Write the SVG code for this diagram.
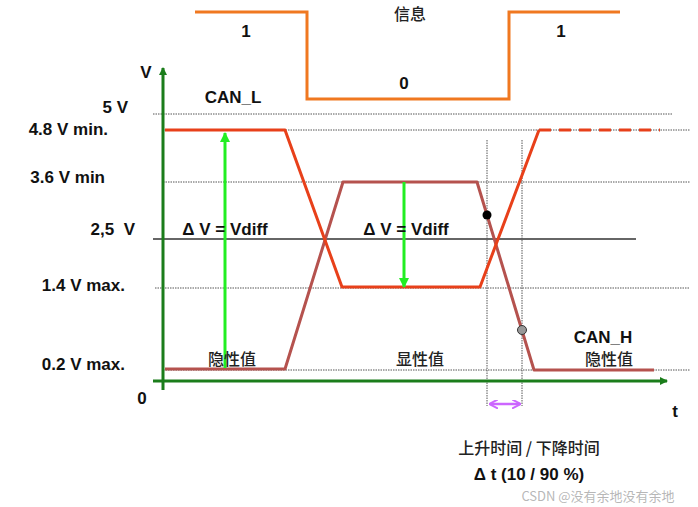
<svg xmlns="http://www.w3.org/2000/svg" width="698" height="507" viewBox="0 0 698 507">
<style>
.lbl{font-family:"Liberation Sans",Arial,sans-serif;font-weight:bold;font-size:17px;fill:#111}
.cjk{font-family:"Noto Sans CJK SC","Noto Sans",sans-serif;font-size:16px;font-weight:500;fill:#222}
.dot{stroke:#555;stroke-width:1;stroke-dasharray:1.5 1;fill:none}
.canl{stroke:#e8401a;stroke-width:3;fill:none;stroke-linejoin:round}
.canh{stroke:#b5524e;stroke-width:3;fill:none;stroke-linejoin:round}
.msg{stroke:#f07820;stroke-width:3;fill:none}
.axis{stroke:#1b7d1b;stroke-width:3;fill:none}
.vd{stroke:#22ee22;stroke-width:3;fill:none}
</style>
<defs>
<marker id="ag" markerWidth="8" markerHeight="8" refX="7" refY="4" orient="auto" markerUnits="userSpaceOnUse" viewBox="0 0 8 8"><path d="M0,0 L8,4 L0,8 z" fill="#1b7d1b"/></marker>
<marker id="av" markerWidth="10" markerHeight="10" refX="9" refY="5" orient="auto" markerUnits="userSpaceOnUse" viewBox="0 0 10 10"><path d="M0,0 L10,5 L0,10 z" fill="#22ee22"/></marker>
<marker id="ap" markerWidth="9" markerHeight="9" refX="8" refY="4.5" orient="auto-start-reverse" markerUnits="userSpaceOnUse" viewBox="0 0 9 9"><path d="M0,0 L9,4.5 L0,9" fill="none" stroke="#cc66ff" stroke-width="2"/></marker>
</defs>
<rect width="698" height="507" fill="#fff"/>

<g id="message">
<polyline class="msg" points="195,12 307,12 307,99 509,99 509,12 620,12"/>
<text class="lbl" x="246" y="37" text-anchor="middle" font-size="18">1</text>
<text class="lbl" x="404" y="89" text-anchor="middle" font-size="18">0</text>
<text class="lbl" x="561" y="37" text-anchor="middle" font-size="18">1</text>
<text class="cjk" x="410" y="20" text-anchor="middle" font-size="18">信息</text>
</g>

<g id="grid">
<line class="dot" x1="153" y1="114" x2="673" y2="114"/>
<line class="dot" x1="163" y1="130" x2="690" y2="130"/>
<line class="dot" x1="163" y1="182" x2="690" y2="182"/>
<line x1="153" y1="239" x2="636" y2="239" stroke="#333" stroke-width="1.5"/>
<line class="dot" x1="155" y1="288" x2="690" y2="288"/>
<line class="dot" x1="163" y1="370" x2="690" y2="370"/>
<line class="dot" x1="487" y1="140" x2="487" y2="406"/>
<line class="dot" x1="522" y1="140" x2="522" y2="406"/>
</g>

<g id="axes">
<line class="axis" x1="163" y1="390" x2="163" y2="68" marker-end="url(#ag)"/>
<line class="axis" x1="153" y1="381" x2="667" y2="381" marker-end="url(#ag)"/>
<text class="lbl" x="146" y="78" text-anchor="middle">V</text>
<text class="lbl" x="142" y="404" text-anchor="middle">0</text>
<text class="lbl" x="675" y="417" text-anchor="middle">t</text>
</g>

<g id="ylabels">
<text class="lbl" x="128" y="113" text-anchor="end">5 V</text>
<text class="lbl" x="108" y="135" text-anchor="end">4.8 V min.</text>
<text class="lbl" x="105" y="183" text-anchor="end">3.6 V min</text>
<text class="lbl" x="135" y="235" text-anchor="end" xml:space="preserve">2,5  V</text>
<text class="lbl" x="125" y="291" text-anchor="end">1.4 V max.</text>
<text class="lbl" x="125" y="370" text-anchor="end">0.2 V max.</text>
</g>

<g id="can_h">
<polyline class="canh" points="165,369 285,369 343,182 477,182 534,370 654,370"/>
<text class="lbl" x="603" y="343" text-anchor="middle">CAN_H</text>
</g>

<g id="can_l">
<polyline class="canl" points="165,130 285,130 342,287 480,287 539,130"/>
<line class="canl" x1="539" y1="130" x2="660" y2="130" stroke-dasharray="12 8"/>
<text class="lbl" x="233" y="103" text-anchor="middle">CAN_L</text>
</g>

<g id="connectors">
<line class="vd" x1="225" y1="368" x2="225" y2="133" marker-end="url(#av)"/>
<line class="vd" x1="404" y1="182" x2="404" y2="287" marker-end="url(#av)"/>
<line x1="490" y1="404" x2="520" y2="404" stroke="#cc66ff" stroke-width="2.5" marker-start="url(#ap)" marker-end="url(#ap)"/>
</g>

<g id="markers">
<circle cx="487" cy="215" r="4.5" fill="#000"/>
<circle cx="522" cy="330" r="4.5" fill="#999" stroke="#333" stroke-width="1"/>
</g>

<g id="texts">
<text class="lbl" x="225" y="235" text-anchor="middle">Δ V = Vdiff</text>
<text class="lbl" x="406" y="235" text-anchor="middle">Δ V = Vdiff</text>
<text class="cjk" x="232" y="365" text-anchor="middle" font-size="17">隐性值</text>
<text class="cjk" x="420" y="365" text-anchor="middle" font-size="17">显性值</text>
<text class="cjk" x="609" y="365" text-anchor="middle" font-size="17">隐性值</text>
<text class="cjk" x="529" y="454" text-anchor="middle" font-size="18">上升时间 / 下降时间</text>
<text class="lbl" x="529" y="480" text-anchor="middle">Δ t (10 / 90 %)</text>
<text x="598" y="501" text-anchor="middle" font-family="Noto Sans CJK SC, Noto Sans, sans-serif" font-size="13" fill="#aaa" fill-opacity="0.85">CSDN @没有余地没有余地</text>
</g>
</svg>
